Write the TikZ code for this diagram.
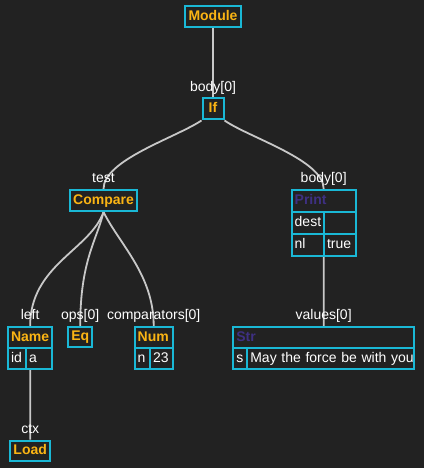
\documentclass[tikz,border=0pt]{standalone}
\usepackage{fontspec}
\setmainfont{Liberation Sans}
\usepackage{tikz}
\usetikzlibrary{backgrounds,positioning}

\definecolor{bgc}{RGB}{34,34,34}
\definecolor{cyn}{RGB}{26,184,214}
\definecolor{org}{RGB}{250,180,20}
\definecolor{pur}{RGB}{62,48,130}
\definecolor{edg}{RGB}{200,200,200}

\pgfdeclarelayer{bg}
\pgfsetlayers{bg,background,main}

\begin{document}
\begin{tikzpicture}[x=1pt,y=-1pt]
		\tikzstyle{Txt}		= [font=\fontsize{14}{16}\selectfont, text height=10pt, text depth=3pt]
		\tikzstyle{Box}		= [Txt, draw=cyn, line width=2pt, fill=bgc, inner sep=0pt, minimum height=21pt, font=\fontsize{14}{16}\selectfont\bfseries, text=org]
		\tikzstyle{Cell}	= [Txt, draw=cyn, line width=2pt, fill=bgc, inner xsep=3pt, inner ysep=0pt, minimum height=22pt, align=left, text=white]
		\tikzstyle{Head}	= [Cell, font=\fontsize{14}{16}\selectfont\bfseries, text=org]
		\tikzstyle{PHead}	= [Head, text=pur]
		\tikzstyle{Lbl}		= [Txt, inner sep=1pt, text=white]
		\tikzstyle{Edge}	= [draw=edg, line width=1.8pt]

		\begin{pgfonlayer}{bg}
			\fill [bgc] (0,0) rectangle (424,468);
		\end{pgfonlayer}

		% single boxes
		\node (Module) at (213,17) [Box, minimum width=56pt] {Module};
		\node (If) at (213,109) [Box, minimum width=21pt] {If};
		\node (Compare) at (103.5,200.5) [Box, minimum width=67pt] {Compare};
		\node (Eq) at (80.2,337) [Box, minimum width=24pt, minimum height=20pt] {Eq};
		\node (Load) at (30.2,450.7) [Box, minimum width=40pt, minimum height=20pt] {Load};

		% Print table
		\node (Print) at (323.7,201) [PHead, text width=58pt] {Print};
		\node (PrintDestK) at (307.85,223) [Cell, text width=26.3pt] {dest};
		\node (PrintDestV) at (339.85,223) [Cell, text width=25.7pt] {};
		\node (PrintNlK) at (307.85,245) [Cell, text width=26.3pt] {nl};
		\node (PrintNlV) at (339.85,245) [Cell, text width=25.7pt] {true};

		% Name table
		\node (Name) at (30.15,337.5) [Head, text width=38.3pt, minimum height=21pt] {Name};
		\node (NameK) at (17,358.5) [Cell, text width=12pt, minimum height=21pt] {id};
		\node (NameV) at (39.15,358.5) [Cell, text width=20.3pt, minimum height=21pt] {a};

		% Num table
		\node (Num) at (153.7,337.5) [Head, text width=32pt, minimum height=21pt] {Num};
		\node (NumK) at (142.35,358.5) [Cell, text width=9.3pt, minimum height=21pt] {n};
		\node (NumV) at (161.35,358.5) [Cell, text width=16.7pt, minimum height=21pt] {23};

		% Str table
		\node (Str) at (323.65,337.5) [PHead, text width=174.7pt, minimum height=21pt] {Str};
		\node (StrK) at (240.3,358.5) [Cell, text width=8pt, minimum height=21pt] {s};
		\node (StrV) at (330.65,358.5) [Cell, text width=160.7pt, minimum height=21pt] {\mbox{May the force be with you}};

		% edge labels
		\node (lIf) [Lbl, above=2pt of If] {body[0]};
		\node (lCompare) [Lbl, above=2pt of Compare] {test};
		\node (lPrint) [Lbl, above=2pt of Print] {body[0]};
		\node (lName) [Lbl, above=2pt of Name] {left};
		\node (lEq) [Lbl, above=2pt of Eq] {ops[0]};
		\node (lNum) [Lbl, above=2pt of Num] {comparators[0]};
		\node (lStr) [Lbl, above=2pt of Str] {values[0]};
		\node (lLoad) [Lbl, above=2pt of Load] {ctx};

		\begin{scope}[on background layer]
			\draw [-] (Module) to (If) [Edge];
			\draw [-] (If.south west) .. controls (175,138) and (103.5,160) .. (Compare.north) [Edge];
			\draw [-] (If.south east) .. controls (250,138) and (323.7,160) .. (Print.north) [Edge];
			\draw [-] (Compare.south) .. controls (90,250) and (30.15,265) .. (Name.north) [Edge];
			\draw [-] (Compare.south) .. controls (97,240) and (80.2,260) .. (Eq.north) [Edge];
			\draw [-] (Compare.south) .. controls (120,245) and (153.7,275) .. (Num.north) [Edge];
			\draw [-] (Print) to (Str) [Edge];
			\draw [-] (Name) to (Load) [Edge];
		\end{scope}
	\end{tikzpicture}
\end{document}
